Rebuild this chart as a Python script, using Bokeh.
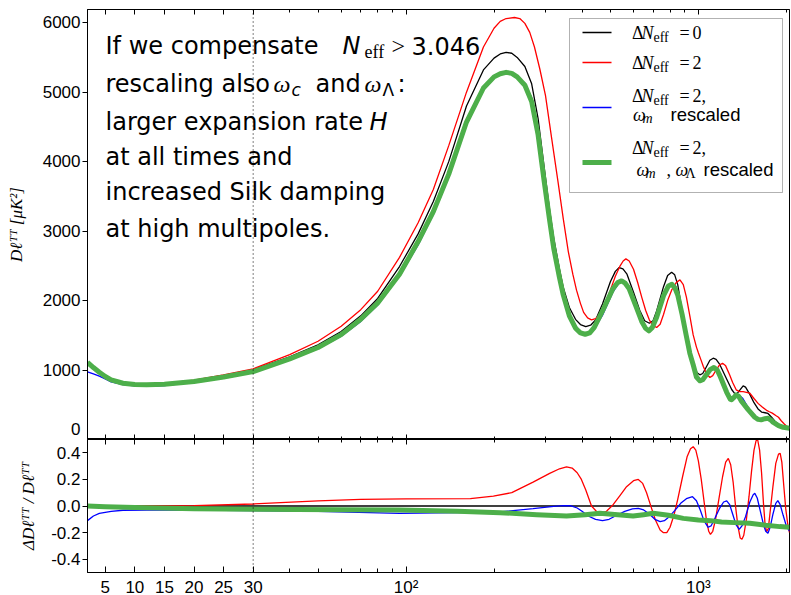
import numpy as np
from bokeh.plotting import figure
from bokeh.layouts import column
from bokeh.models import (FixedTicker, LinearAxis, Range1d, Span, Label,
                          BoxAnnotation, CustomJSTickFormatter)
from bokeh.embed import file_html
from bokeh.resources import INLINE

# ---------------- data ----------------
ell_black = [2,3,4,5,6,8,10,12,15,20,25,30,40,50,60,70,80,95,110,124,140,161,184,200,210,220,230,240,255,269,283,
             297,310,320,335,345,362,380,395,412,428,445,470,500,520,536,552,570,600,630,655,680,700,720,760,785,
             810,830,850,876,908,936,965,990,1012,1035,1060,1095,1124,1150,1180,1240,1300,1330,1351,1380,1423,1450,
             1500,1550,1600,1645,1690,1730,1780,1830,1900,1950,2000,2050]
D_black = [1110,1040,972,912,865,815,795,790,800,850,922,1003,1190,1362,1555,1780,2030,2490,2960,3425,4000,4800,
           5320,5490,5550,5573,5560,5500,5370,5120,4620,3910,3300,2900,2450,2190,1900,1730,1655,1626,1645,1720,
           1950,2270,2420,2475,2455,2380,2120,1860,1710,1674,1710,1850,2200,2360,2408,2370,2230,1900,1560,1266,
           1060,960,931,950,1030,1140,1170,1155,1090,900,720,665,652,700,773,755,650,530,440,395,385,375,320,260,
           210,185,170,160]

ell_red = [2,3,4,5,6,8,10,12,15,20,25,30,40,50,60,70,80,95,110,124,140,161,184,200,210,220,235,245,255,265,275,
           287,300,315,331,345,359,372,383,395,405,418,431,445,460,480,500,520,540,553,565,580,600,620,640,660,680,
           700,720,740,760,785,810,840,865,888,910,935,960,985,1000,1020,1040,1065,1095,1120,1150,1180,1210,1240,
           1280,1310,1347,1385,1423,1460,1500,1550,1600,1650,1711,1750,1790,1840,1880,1920,1960,2000,2050]
D_red = [1110,1040,972,912,865,815,795,790,800,853,929,1018,1222,1414,1630,1869,2134,2622,3120,3600,4230,5000,
         5650,5920,6020,6060,6075,6060,5990,5860,5650,5330,4950,4330,3713,3180,2705,2380,2150,1960,1830,1750,
         1722,1740,1800,1950,2150,2350,2500,2570,2600,2570,2450,2260,2050,1860,1720,1640,1612,1660,1800,2000,
         2150,2260,2298,2230,2050,1780,1506,1330,1250,1150,1050,950,892,920,1000,1070,1098,1060,930,820,715,690,
         690,680,666,590,520,470,420,400,380,345,320,270,230,195,165]

ell_blue = [2,3,4,5,6,8,10,12,15,20,25,30,40,50,60,70,80,95,110,124,140,161,184,200,210,220,230,240,255,269,283,
            297,310,320,335,345,362,380,395,412,428,445,470,510,530,546,562,580,610,640,660,680,700,720,760,790,
            815,835,850,880,908,935,960,985,1012,1035,1060,1100,1130,1160,1190,1250,1290,1310,1335,1360,1390,1420,
            1480,1560,1600,1640,1690,1730,1770,1800,1880,1950,2050]
D_blue = [975,945,912,871,830,789,771,766,776,825,892,968,1145,1307,1488,1700,1935,2353,2800,3240,3780,4540,5050,
          5220,5260,5280,5270,5230,5130,4920,4470,3800,3230,2820,2390,2130,1820,1640,1555,1520,1540,1620,1790,2120,
          2230,2270,2260,2200,1980,1740,1620,1570,1600,1720,2040,2200,2250,2210,2120,1850,1560,1290,1110,930,860,
          870,920,1020,1050,1020,950,700,590,570,600,640,625,590,460,340,305,290,298,300,285,260,210,180,160]

ell_green = [2,3,4,5,6,8,10,12,15,20,25,30,40,50,60,70,80,95,110,124,140,161,184,200,210,220,230,240,255,269,283,
             297,310,320,335,345,362,380,395,410,425,440,470,510,530,546,562,580,610,640,660,677,695,720,760,790,
             812,832,850,880,908,935,960,985,1012,1035,1060,1100,1130,1160,1190,1250,1285,1299,1320,1347,1375,1400,
             1480,1560,1600,1640,1690,1730,1770,1800,1880,1950,2050]
D_green = [1112,1036,968,907,859,810,791,787,795,835,900,978,1160,1325,1510,1730,1965,2379,2850,3280,3820,4570,
           5060,5220,5265,5285,5270,5220,5100,4864,4385,3713,3150,2753,2330,2082,1780,1602,1535,1515,1535,1610,
           1850,2170,2260,2283,2250,2170,1930,1700,1600,1564,1610,1760,2070,2210,2235,2180,2080,1800,1506,1240,
           1075,900,845,860,920,1010,1036,1000,900,680,580,571,600,643,620,560,430,320,290,283,300,307,280,250,
           200,175,163]

# residuals  Delta D / D
res_ell_black = [2, 2050]
res_black = [0.0, 0.0]

res_ell_red = [2,10,20,30,50,70,100,166,199,230,272,310,335,354,370,385,398,412,431,450,465,485,511,540,568,600,
               623,645,665,690,713,740,758,780,800,825,850,883,915,940,960,980,1000,1023,1045,1065,1085,1100,1120,
               1145,1175,1210,1240,1266,1290,1315,1340,1365,1390,1410,1430,1460,1490,1520,1550,1575,1595,1620,1645,
               1670,1690,1711,1735,1765,1800,1840,1880,1905,1930,1960,1990,2020,2050]
res_red = [0.0,0.0,0.003,0.015,0.038,0.05,0.053,0.055,0.075,0.1,0.18,0.245,0.28,0.295,0.285,0.25,0.2,0.12,0.0,
           -0.045,-0.055,-0.04,0.01,0.08,0.145,0.19,0.2,0.17,0.1,-0.01,-0.105,-0.18,-0.2,-0.2,-0.16,-0.07,0.05,0.22,
           0.37,0.43,0.446,0.42,0.34,0.2,0.04,-0.1,-0.19,-0.213,-0.19,-0.1,0.05,0.22,0.33,0.358,0.31,0.18,0.0,
           -0.15,-0.24,-0.25,-0.22,-0.1,0.07,0.26,0.42,0.49,0.5,0.42,0.25,0.02,-0.13,-0.193,-0.17,-0.02,0.15,0.32,
           0.39,0.396,0.33,0.15,-0.02,-0.13,-0.2]

res_ell_blue = [2,3,4,6,8,12,20,30,50,95,150,210,272,320,345,365,385,400,420,445,470,495,520,560,595,623,650,680,
                710,740,765,795,830,870,910,955,985,1015,1045,1080,1105,1140,1180,1220,1250,1280,1310,1345,1380,1410,
                1450,1500,1540,1560,1590,1630,1670,1700,1730,1760,1800,1840,1870,1905,1950,2000,2050]
res_blue = [-0.11,-0.075,-0.055,-0.04,-0.032,-0.03,-0.03,-0.035,-0.04,-0.055,-0.05,-0.045,-0.02,-0.003,0.003,0.002,
            -0.015,-0.04,-0.075,-0.1,-0.11,-0.1,-0.075,-0.04,-0.022,-0.018,-0.03,-0.06,-0.1,-0.118,-0.11,-0.08,
            -0.035,0.02,0.055,0.07,0.04,-0.03,-0.11,-0.16,-0.15,-0.09,-0.02,0.03,0.038,0.01,-0.06,-0.14,-0.175,
            -0.15,-0.08,0.03,0.085,0.095,0.06,-0.04,-0.14,-0.19,-0.205,-0.16,-0.06,0.02,0.04,0.01,-0.07,-0.15,-0.19]

res_ell_green = [2,5,10,20,30,60,95,150,210,280,354,410,460,530,598,650,700,790,888,1000,1100,1200,1330,1500,
                 1700,1900,2050]
res_green = [0.0,-0.005,-0.012,-0.02,-0.025,-0.028,-0.03,-0.04,-0.05,-0.065,-0.075,-0.065,-0.055,-0.065,-0.075,
             -0.065,-0.055,-0.07,-0.093,-0.105,-0.11,-0.12,-0.125,-0.13,-0.145,-0.155,-0.16]

major_ells = [5, 10, 15, 20, 25, 30, 100, 1000]
minor_ells = [40, 50, 60, 70, 80, 90, 200, 300, 400, 500, 600, 700, 800, 900, 2000]
top_yticks = [0, 1000, 2000, 3000, 4000, 5000, 6000]
res_yticks = [-0.4, -0.2, 0.0, 0.2, 0.4]
res_ylabels = ["-0.4", "-0.2", "0.0", "0.2", "0.4"]

# ---------------- hybrid (linear up to 30, log above) x coordinate ----------------
L_BREAK = 30.0
DEC = 292.5 / 5.92       # linear units per decade


def hx(ell):
    ell = np.asarray(ell, dtype=float)
    return np.where(ell <= L_BREAK, ell, L_BREAK + np.log10(np.maximum(ell, 1e-9) / L_BREAK) * DEC)


X0, X1 = 2.0, float(hx(2050))
YMAX = 6190.0
FW = 702
TOP_FH, BOT_FH = 430, 133

COL = {"black": "black", "red": "#ff0000", "blue": "#0000ff", "green": "#4daf4a"}

xr = Range1d(X0, X1)
top = figure(frame_width=FW, frame_height=TOP_FH, x_range=xr, y_range=Range1d(0, YMAX),
             output_backend="svg", toolbar_location=None,
             min_border_left=87, min_border_right=2, min_border_top=9, min_border_bottom=0)
bot = figure(frame_width=FW, frame_height=BOT_FH, x_range=xr, y_range=Range1d(-0.5, 0.5),
             output_backend="svg", toolbar_location=None,
             min_border_left=87, min_border_right=2, min_border_top=0, min_border_bottom=0)

for p in (top, bot):
    p.grid.visible = False
    p.outline_line_color = "black"
    p.outline_line_width = 1
    p.background_fill_color = "white"
    p.border_fill_color = "white"

xt = FixedTicker(ticks=[float(v) for v in hx(major_ells)], minor_ticks=[float(v) for v in hx(minor_ells)])
fmt = CustomJSTickFormatter(code="""
if (tick <= 30.5) { return Math.round(tick).toString(); }
const ell = 30 * Math.pow(10, (tick - 30) / %r);
const e = Math.round(Math.log10(ell));
return e == 2 ? "10\u00b2" : (e == 3 ? "10\u00b3" : "");
""" % DEC)
blank = CustomJSTickFormatter(code='return "";')

TICK_FONT = "Liberation Sans"


def style_x(ax, labels, tin=5, minin=3):
    ax.ticker = xt
    ax.major_tick_in = tin
    ax.major_tick_out = 0
    ax.minor_tick_in = minin
    ax.minor_tick_out = 0
    ax.axis_line_color = "black"
    ax.major_tick_line_color = "black"
    ax.minor_tick_line_color = "black"
    if labels:
        ax.formatter = fmt
        ax.major_label_text_font = TICK_FONT
        ax.major_label_text_font_size = "17px"
        ax.major_label_standoff = 5
        ax.major_label_text_color = "black"
    else:
        ax.formatter = blank
        ax.major_label_text_font_size = "0px"
        ax.major_label_standoff = 0


def style_y(ax):
    ax.major_tick_in = 0
    ax.major_tick_out = 5
    ax.minor_tick_in = 0
    ax.minor_tick_out = 0
    ax.axis_line_color = "black"
    ax.major_label_text_font = TICK_FONT
    ax.major_label_text_font_size = "17px"
    ax.major_label_standoff = 2
    ax.major_label_text_color = "black"
    ax.axis_label_text_font = "Liberation Serif"
    ax.axis_label_text_font_style = "italic"
    ax.axis_label_text_font_size = "17px"
    ax.axis_label_text_color = "black"


# top panel axes
style_x(top.xaxis[0], False, 5, 3)
top.add_layout(LinearAxis(), "above")
style_x(top.above[0], False, 5, 3)
style_y(top.yaxis[0])
top.yaxis[0].ticker = FixedTicker(ticks=top_yticks)
# the "0" label sits on the panel boundary: lift it slightly with a blank, very tight second line
top.yaxis[0].major_label_overrides = {0: "0\n "}
top.yaxis[0].major_label_text_line_height = 0.05
top.yaxis[0].axis_label = "D\u2113\u1d40\u1d40 [\u03bcK\u00b2]"
top.yaxis[0].axis_label_standoff = 14

# bottom panel axes
style_x(bot.xaxis[0], True, 6, 4)
bot.add_layout(LinearAxis(), "above")
style_x(bot.above[0], False, 5, 3)
style_y(bot.yaxis[0])
bot.yaxis[0].ticker = FixedTicker(ticks=res_yticks)
bot.yaxis[0].major_label_overrides = {float(k): v for k, v in zip(res_yticks, res_ylabels)}
bot.yaxis[0].axis_label = "\u0394D\u2113\u1d40\u1d40 / D\u2113\u1d40\u1d40"
bot.yaxis[0].axis_label_standoff = 10

# curves
top.line(hx(ell_black), D_black, line_color=COL["black"], line_width=1.3)
top.line(hx(ell_red), D_red, line_color=COL["red"], line_width=1.3)
top.line(hx(ell_blue), D_blue, line_color=COL["blue"], line_width=1.3)
top.line(hx(ell_green), D_green, line_color=COL["green"], line_width=5, line_join="round")

bot.line(hx(res_ell_black), res_black, line_color=COL["black"], line_width=1.3)
bot.line(hx(res_ell_red), res_red, line_color=COL["red"], line_width=1.3)
bot.line(hx(res_ell_blue), res_blue, line_color=COL["blue"], line_width=1.3)
bot.line(hx(res_ell_green), res_green, line_color=COL["green"], line_width=5, line_join="round")

for p in (top, bot):
    p.add_layout(Span(location=float(hx(30)), dimension="height", line_color="black",
                      line_width=1, line_dash="1 3"))

# ---------------- annotations (positions given in screen pixels of the top panel) ----------------
PXU = FW / (X1 - X0)
YPX = YMAX / TOP_FH


def xd(px):
    return X0 + (px - 87) / PXU


def yd(py):
    return (439 - py) * YPX


def put(text, px, py, size, font="DejaVu Sans", style="normal", align="left", baseline="alphabetic"):
    top.add_layout(Label(x=xd(px), y=yd(py), text=text, text_font=font, text_font_size="%gpx" % size,
                         text_font_style=style, text_color="black", text_baseline=baseline,
                         text_align=align))


# block of text
TF, TS = "DejaVu Sans", 24
SER = "Liberation Serif"
base = [45.3, 83, 121.3, 156.3, 191.3, 228]
put("If we compensate", 105, base[0], TS, TF)
put("N", 342, base[0], TS, TF, "italic")
put("eff", 364, base[0] + 6, 18, SER)
put(">", 391, base[0], TS, SER)
put("3.046", 411, base[0], TS, TF)
put("rescaling also", 105, base[1], TS, TF)
put("\u03c9", 273, base[1], TS, SER, "italic")
put("c", 291, base[1] + 6, 17, TF, "italic")
put("and", 315, base[1], TS, TF)
put("\u03c9", 364, base[1], TS, SER, "italic")
put("\u039b", 382, base[1] + 6, 17, TF)
put(":", 397, base[1], TS, TF)
put("larger expansion rate", 105, base[2], TS, TF)
put("H", 369, base[2], TS, TF, "italic")
put("at all times and", 105, base[3], TS, TF)
put("increased Silk damping", 105, base[4], TS, TF)
put("at high multipoles.", 105, base[5], TS, TF)

# legend
top.add_layout(BoxAnnotation(left=xd(569), right=xd(782), top=yd(18), bottom=yd(192),
                             fill_color="white", fill_alpha=1.0, line_color="black", line_width=1))
for yc, key, w in [(32, "black", 1.4), (62, "red", 1.4), (107, "blue", 1.4), (162, "green", 5)]:
    top.add_layout(BoxAnnotation(left=xd(582), right=xd(611), top=yd(yc - w / 2), bottom=yd(yc + w / 2),
                                 fill_color=COL[key], fill_alpha=1.0, line_color=None))

LS, LSS = 18, 14
DY = -8


def dneff(py, tail):
    py = py + DY
    put("\u0394", 631.5, py, LS, SER)
    put("N", 641, py, LS, SER, "italic")
    put("eff", 653, py + 4.5, LSS, SER)
    put("=", 679, py, LS, SER)
    put(tail, 692, py, LS, SER)


dneff(40, "0")
dneff(70, "2")
dneff(103, "2,")
put("\u03c9", 632.5, 122 + DY, LS, SER, "italic")
put("m", 642, 126 + DY, LSS, SER, "italic")
put("rescaled", 670, 122 + DY, 18.5, TICK_FONT)
dneff(155, "2,")
put("\u03c9", 636, 177 + DY, LS, SER, "italic")
put("m", 645, 181 + DY, LSS, SER, "italic")
put(",", 666, 177 + DY, LS, SER)
put("\u03c9", 675, 177 + DY, LS, SER, "italic")
put("\u039b", 685, 181 + DY, LSS, SER)
put("rescaled", 703, 177 + DY, 18.5, TICK_FONT)

layout = column(top, bot, spacing=0)
open("out.html", "w").write(file_html(layout, INLINE, title="Neff"))
